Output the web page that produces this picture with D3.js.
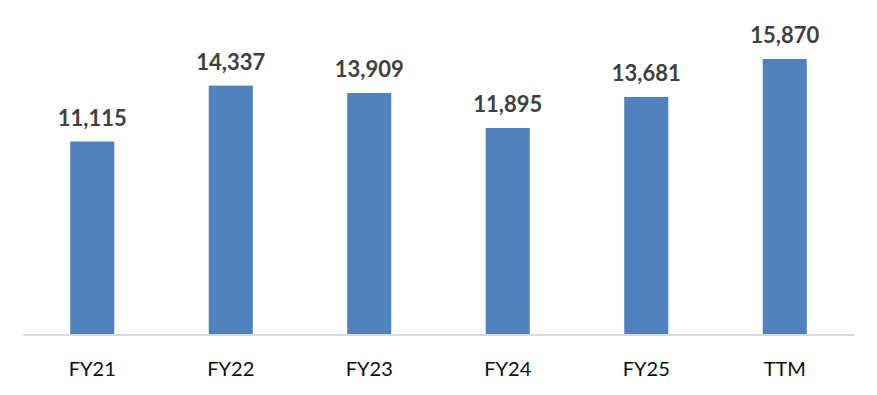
<!DOCTYPE html>
<html>
<head>
<meta charset="utf-8">
<script src="https://cdn.jsdelivr.net/npm/d3@7"></script>
<style>
  html, body { margin: 0; padding: 0; background: #fff; }
  svg { display: block; font-family: Lato, "Open Sans", sans-serif; }
</style>
</head>
<body>
<div id="chart"></div>
<script>
(function () {

  var CATEGORIES = ["FY21", "FY22", "FY23", "FY24", "FY25", "TTM"];
  var VALUES = [11115, 14337, 13909, 11895, 13681, 15870];

  var W = 877, H = 395;
  var BASE_Y = 334.5;

  var svg = d3.select("#chart").append("svg")
    .attr("width", W)
    .attr("height", H);

  var x = d3.scaleBand()
    .domain(CATEGORIES)
    .range([23, 854])
    .paddingInner(0.682)
    .paddingOuter(0.341);

  // 0..15870 maps to baseline..59
  var y = d3.scaleLinear()
    .domain([0, 15870])
    .range([BASE_Y, 59]);

  var data = CATEGORIES.map(function (c, i) { return { cat: c, val: VALUES[i] }; });

  // ── Bars ──────────────────────────────────────────────
  svg.append("g").selectAll("rect")
    .data(data)
    .join("rect")
    .attr("x", function (d) { return x(d.cat); })
    .attr("width", x.bandwidth())
    .attr("y", function (d) { return y(d.val); })
    .attr("height", function (d) { return BASE_Y - y(d.val); })
    .attr("fill", "#4f81bd");

  // ── Value labels ──────────────────────────────────────
  var fmt = d3.format(",");
  svg.append("g").selectAll("text")
    .data(data)
    .join("text")
    .attr("x", function (d) { return x(d.cat) + x.bandwidth() / 2; })
    .attr("y", function (d) { return y(d.val) - 16; })
    .attr("text-anchor", "middle")
    .attr("font-size", "22px")
    .attr("font-weight", "700")
    .attr("fill", "#404040")
    .text(function (d) { return fmt(d.val); });

  // ── Axis ──────────────────────────────────────────────
  var axis = svg.append("g")
    .attr("transform", "translate(0," + BASE_Y + ")")
    .call(d3.axisBottom(x).tickSize(0).tickPadding(0));

  axis.select(".domain")
    .attr("stroke", "#d9d9d9")
    .attr("stroke-width", 2);

  axis.selectAll(".tick text")
    .attr("y", 41)
    .attr("dy", 0)
    .attr("font-family", "Lato, 'Open Sans', sans-serif")
    .attr("font-size", "20px")
    .attr("fill", "#0d0d0d");

})();
</script>
</body>
</html>
